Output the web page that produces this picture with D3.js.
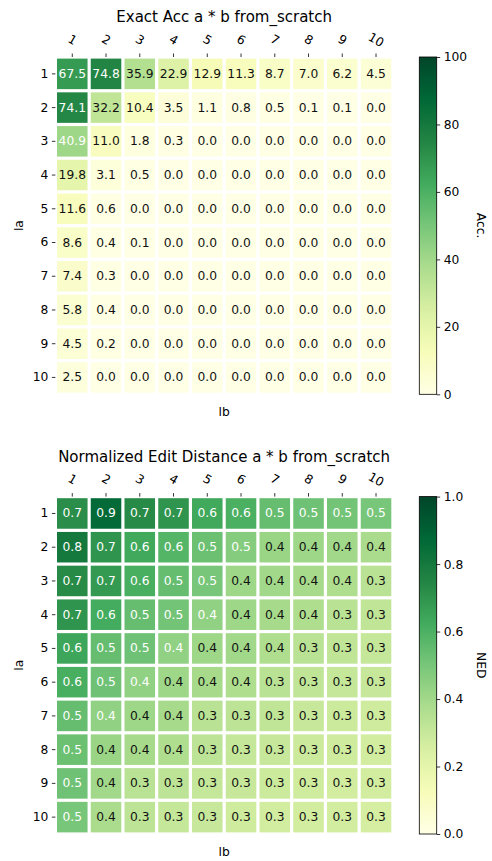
<!DOCTYPE html>
<html>
<head>
<meta charset="utf-8">
<script src="https://cdn.jsdelivr.net/npm/d3@7"></script>
<style>
  html, body { margin: 0; padding: 0; background: #fff; }
  text { font-family: "DejaVu Sans", sans-serif; }
</style>
</head>
<body>
<svg id="chart" width="492" height="861"></svg>
<script>
// ---- data ----
const lbLabels = ["1","2","3","4","5","6","7","8","9","10"];
const laLabels = ["1","2","3","4","5","6","7","8","9","10"];

const accValues = [
  [67.5, 74.8, 35.9, 22.9, 12.9, 11.3, 8.7, 7.0, 6.2, 4.5],
  [74.1, 32.2, 10.4, 3.5, 1.1, 0.8, 0.5, 0.1, 0.1, 0.0],
  [40.9, 11.0, 1.8, 0.3, 0.0, 0.0, 0.0, 0.0, 0.0, 0.0],
  [19.8, 3.1, 0.5, 0.0, 0.0, 0.0, 0.0, 0.0, 0.0, 0.0],
  [11.6, 0.6, 0.0, 0.0, 0.0, 0.0, 0.0, 0.0, 0.0, 0.0],
  [8.6, 0.4, 0.1, 0.0, 0.0, 0.0, 0.0, 0.0, 0.0, 0.0],
  [7.4, 0.3, 0.0, 0.0, 0.0, 0.0, 0.0, 0.0, 0.0, 0.0],
  [5.8, 0.4, 0.0, 0.0, 0.0, 0.0, 0.0, 0.0, 0.0, 0.0],
  [4.5, 0.2, 0.0, 0.0, 0.0, 0.0, 0.0, 0.0, 0.0, 0.0],
  [2.5, 0.0, 0.0, 0.0, 0.0, 0.0, 0.0, 0.0, 0.0, 0.0]
];

const nedValues = [
  [0.72, 0.86, 0.73, 0.70, 0.63, 0.60, 0.54, 0.52, 0.51, 0.50],
  [0.80, 0.70, 0.63, 0.58, 0.53, 0.47, 0.42, 0.41, 0.40, 0.38],
  [0.73, 0.68, 0.61, 0.54, 0.50, 0.41, 0.40, 0.39, 0.37, 0.34],
  [0.70, 0.62, 0.54, 0.51, 0.44, 0.41, 0.39, 0.37, 0.34, 0.32],
  [0.64, 0.54, 0.52, 0.44, 0.41, 0.40, 0.37, 0.34, 0.32, 0.31],
  [0.61, 0.52, 0.44, 0.41, 0.39, 0.37, 0.34, 0.32, 0.31, 0.30],
  [0.54, 0.44, 0.41, 0.39, 0.34, 0.33, 0.32, 0.30, 0.29, 0.28],
  [0.53, 0.42, 0.39, 0.37, 0.33, 0.31, 0.30, 0.29, 0.28, 0.27],
  [0.52, 0.40, 0.34, 0.33, 0.31, 0.30, 0.29, 0.28, 0.27, 0.27],
  [0.50, 0.38, 0.33, 0.31, 0.30, 0.28, 0.27, 0.27, 0.27, 0.26]
];

const accTicks = [0, 20, 40, 60, 80, 100];
const nedTicks = [0.0, 0.2, 0.4, 0.6, 0.8, 1.0];

const ylGn = ["#ffffe5","#f7fcb9","#d9f0a3","#addd8e","#78c679","#41ab5d","#238443","#006837","#004529"];

// ---- drawing ----
const svg = d3.select("#chart");
const X0 = 55.4, X1 = 392.9;
const CB_X = 419.3, CB_W = 17.4;

function drawPanel(opts) {
  const { title, values, vmax, ticks, tickFmt, cbLabel, top, bottom, fmt, idx } = opts;
  const x = d3.scaleBand().domain(lbLabels).range([X0, X1]).padding(0);
  const y = d3.scaleBand().domain(laLabels).range([top, bottom]).padding(0);
  const color = d3.scaleLinear()
    .domain(d3.range(ylGn.length).map(i => vmax * i / (ylGn.length - 1)))
    .range(ylGn).interpolate(d3.interpolateRgb).clamp(true);

  const g = svg.append("g");
  const maxVal = d3.max(values.flat());
  const cells = [];
  values.forEach((row, ri) => row.forEach((v, ci) => cells.push({ r: laLabels[ri], c: lbLabels[ci], v })));

  const inset = 1.6;
  g.selectAll("rect.cell").data(cells).join("rect")
    .attr("class", "cell")
    .attr("x", d => x(d.c) + inset)
    .attr("y", d => y(d.r) + inset)
    .attr("width", x.bandwidth() - 2 * inset)
    .attr("height", y.bandwidth() - 2 * inset)
    .attr("fill", d => color(d.v));

  g.selectAll("text.ann").data(cells).join("text")
    .attr("class", "ann")
    .attr("x", d => x(d.c) + x.bandwidth() / 2)
    .attr("y", d => y(d.r) + y.bandwidth() / 2)
    .attr("text-anchor", "middle")
    .attr("dominant-baseline", "central")
    .attr("font-size", 12.3)
    .attr("fill", d => (d.v > maxVal / 2 ? "#ffffff" : "#111111"))
    .text(d => fmt(d.v));

  // y axis
  const yAxis = d3.axisLeft(y).tickSize(3.5).tickPadding(3.5);
  const ya = g.append("g").attr("transform", `translate(${X0},0)`).call(yAxis);
  ya.select(".domain").remove();
  ya.selectAll("line").attr("stroke", "#000").attr("stroke-width", 0.8);
  ya.selectAll("text").attr("font-size", 12.3).attr("fill", "#000").attr("font-family", "DejaVu Sans");

  // x axis on top
  const xAxis = d3.axisTop(x).tickSize(3.5).tickPadding(3.5);
  const xa = g.append("g").attr("transform", `translate(0,${top})`).call(xAxis);
  xa.select(".domain").remove();
  xa.selectAll("line").attr("stroke", "#000").attr("stroke-width", 0.8);
  xa.selectAll("text")
    .attr("font-size", 12.3).attr("fill", "#000").attr("font-family", "DejaVu Sans")
    .attr("text-anchor", "middle")
    .attr("dominant-baseline", "central")
    .attr("y", -17)
    .attr("transform", "rotate(30,0,-17)");

  // title
  g.append("text")
    .attr("x", (X0 + X1) / 2).attr("y", top - 35)
    .attr("text-anchor", "middle").attr("font-size", 15).attr("fill", "#000")
    .text(title);

  // axis labels
  g.append("text")
    .attr("transform", `translate(23,${(top + bottom) / 2}) rotate(-90)`)
    .attr("text-anchor", "middle").attr("font-size", 12.3).attr("fill", "#000")
    .text("la");
  g.append("text")
    .attr("x", (X0 + X1) / 2).attr("y", bottom + 22)
    .attr("text-anchor", "middle").attr("font-size", 12.3).attr("fill", "#000")
    .text("lb");

  // colorbar
  const gid = "grad" + idx;
  const grad = svg.append("defs").append("linearGradient")
    .attr("id", gid).attr("x1", 0).attr("y1", 1).attr("x2", 0).attr("y2", 0);
  d3.range(0, 1.0001, 0.02).forEach(t => {
    grad.append("stop").attr("offset", t).attr("stop-color", color(t * vmax));
  });
  const cbScale = d3.scaleLinear().domain([0, vmax]).range([bottom, top]);
  g.append("rect")
    .attr("x", CB_X).attr("y", top).attr("width", CB_W).attr("height", bottom - top)
    .attr("fill", `url(#${gid})`).attr("stroke", "#000").attr("stroke-width", 0.8);
  const cbAxis = d3.axisRight(cbScale).tickValues(ticks).tickFormat(tickFmt).tickSize(3.5).tickPadding(3.5);
  const ca = g.append("g").attr("transform", `translate(${CB_X + CB_W},0)`).call(cbAxis);
  ca.select(".domain").remove();
  ca.selectAll("line").attr("stroke", "#000").attr("stroke-width", 0.8);
  ca.selectAll("text").attr("font-size", 12.3).attr("fill", "#000").attr("font-family", "DejaVu Sans");
  g.append("text")
    .attr("transform", `translate(477,${(top + bottom) / 2}) rotate(90)`)
    .attr("text-anchor", "middle").attr("font-size", 12.3).attr("fill", "#000")
    .text(cbLabel);
}

drawPanel({
  idx: 0,
  title: "Exact Acc a * b from_scratch",
  values: accValues, vmax: 100, ticks: accTicks, tickFmt: d3.format("d"),
  cbLabel: "Acc.", top: 57, bottom: 394.3, fmt: d3.format(".1f")
});
drawPanel({
  idx: 1,
  title: "Normalized Edit Distance a * b from_scratch",
  values: nedValues, vmax: 1, ticks: nedTicks, tickFmt: d3.format(".1f"),
  cbLabel: "NED", top: 496.6, bottom: 834, fmt: d3.format(".1f")
});
</script>
</body>
</html>
